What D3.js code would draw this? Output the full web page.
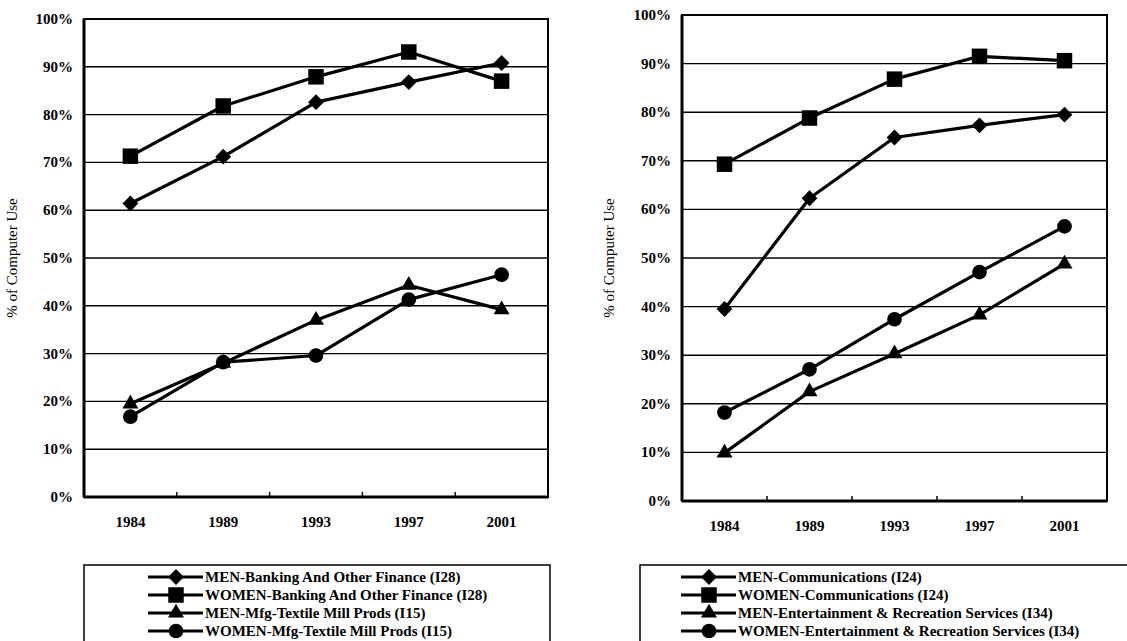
<!DOCTYPE html>
<html>
<head>
<meta charset="utf-8">
<script src="https://cdn.jsdelivr.net/npm/d3@7"></script>
<style>
  body { margin: 0; background: #fff; }
  svg text { font-family: "Liberation Serif", "Times New Roman", serif; fill: #000; }
</style>
</head>
<body>
<div id="chart"></div>
<script>
// years on the x axis
const years = ['1984', '1989', '1993', '1997', '2001'];
const yTicks = [0, 10, 20, 30, 40, 50, 60, 70, 80, 90, 100];

// left panel series (% of computer use)
const leftNames = [
  'MEN-Banking And Other Finance (I28)',
  'WOMEN-Banking And Other Finance (I28)',
  'MEN-Mfg-Textile Mill Prods (I15)',
  'WOMEN-Mfg-Textile Mill Prods (I15)'
];
const menBanking = [61.4, 71.2, 82.6, 86.8, 90.8];
const womenBanking = [71.3, 81.8, 87.9, 93.1, 87.0];
const menTextile = [19.5, 28.0, 37.0, 44.3, 39.2];
const womenTextile = [16.8, 28.2, 29.6, 41.3, 46.5];

// right panel series
const rightNames = [
  'MEN-Communications (I24)',
  'WOMEN-Communications (I24)',
  'MEN-Entertainment & Recreation Services (I34)',
  'WOMEN-Entertainment & Recreation Services (I34)'
];
const menComm = [39.5, 62.3, 74.8, 77.3, 79.5];
const womenComm = [69.3, 78.8, 86.8, 91.5, 90.6];
const menEnt = [9.9, 22.5, 30.3, 38.3, 48.8];
const womenEnt = [18.2, 27.1, 37.4, 47.1, 56.5];

const markers = ['diamond', 'square', 'triangle', 'circle'];

const width = 1127, height = 641;
const svg = d3.select('#chart').append('svg')
    .attr('width', width)
    .attr('height', height);

function markerPath(type) {
  if (type === 'square') return d3.symbol(d3.symbolSquare, 240)();
  if (type === 'diamond') return d3.symbol(d3.symbolSquare, 125)();
  if (type === 'triangle') return d3.symbol(d3.symbolTriangle, 110)();
  return d3.symbol(d3.symbolCircle, 170)();
}

function drawPanel(opt) {
  const g = svg.append('g');
  const x = d3.scaleBand().domain(years).range([opt.left, opt.right]);
  const y = d3.scaleLinear().domain([0, 100]).range([opt.bottom, opt.top]);
  const cx = d => x(d) + x.bandwidth() / 2;

  // gridlines
  g.append('g')
    .selectAll('line')
    .data(yTicks.slice(1, -1))
    .join('line')
      .attr('x1', opt.left).attr('x2', opt.right)
      .attr('y1', d => y(d)).attr('y2', d => y(d))
      .attr('stroke', '#000')
      .attr('stroke-width', 1.4);

  // frame
  g.append('rect')
    .attr('x', opt.left).attr('y', opt.top)
    .attr('width', opt.right - opt.left).attr('height', opt.bottom - opt.top)
    .attr('fill', 'none').attr('stroke', '#000').attr('stroke-width', 2);
  g.append('line')
    .attr('x1', opt.left).attr('x2', opt.left)
    .attr('y1', opt.top).attr('y2', opt.bottom)
    .attr('stroke', '#000').attr('stroke-width', 3);
  g.append('line')
    .attr('x1', opt.left).attr('x2', opt.right)
    .attr('y1', opt.bottom).attr('y2', opt.bottom)
    .attr('stroke', '#000').attr('stroke-width', 3);

  // x tick marks between categories (pointing inward)
  g.append('g')
    .selectAll('line')
    .data(years.slice(1))
    .join('line')
      .attr('x1', d => x(d)).attr('x2', d => x(d))
      .attr('y1', opt.bottom).attr('y2', opt.bottom - 5)
      .attr('stroke', '#000').attr('stroke-width', 1.5);

  // y tick labels
  g.append('g')
    .selectAll('text')
    .data(yTicks)
    .join('text')
      .attr('x', opt.left - 11)
      .attr('y', d => y(d) + 5)
      .attr('text-anchor', 'end')
      .style('font-size', '15px')
      .style('font-weight', 700)
      .text(d => d + '%');

  // x labels
  g.append('g')
    .selectAll('text')
    .data(years)
    .join('text')
      .attr('x', cx)
      .attr('y', opt.bottom + 30)
      .attr('text-anchor', 'middle')
      .style('font-size', '15px')
      .style('font-weight', 700)
      .text(d => d);

  // y axis title
  g.append('text')
    .attr('transform', `translate(${opt.titleX}, ${(opt.top + opt.bottom) / 2}) rotate(-90)`)
    .attr('text-anchor', 'middle')
    .style('font-size', '15px')
    .text('% of Computer Use');

  // lines + markers
  const line = d3.line().x((d, i) => cx(years[i])).y(d => y(d));
  opt.series.forEach((vals, k) => {
    g.append('path')
      .attr('d', line(vals))
      .attr('fill', 'none')
      .attr('stroke', '#000')
      .attr('stroke-width', 3.2)
      .attr('stroke-linejoin', 'round');
    g.append('g')
      .selectAll('path')
      .data(vals)
      .join('path')
        .attr('d', markerPath(markers[k]))
        .attr('transform', (d, i) => `translate(${cx(years[i])}, ${y(d)})` + (markers[k] === 'diamond' ? ' rotate(45)' : ''))
        .attr('fill', '#000');
  });

  // legend box
  const lg = svg.append('g');
  lg.append('rect')
    .attr('x', opt.legend.x).attr('y', opt.legend.y)
    .attr('width', opt.legend.w).attr('height', opt.legend.h)
    .attr('fill', '#fff').attr('stroke', '#000').attr('stroke-width', 1.5);
  const item = lg.selectAll('.legend-item')
    .data(opt.names)
    .join('g')
      .attr('class', 'legend-item')
      .attr('transform', (d, i) => `translate(0, ${opt.legend.y + 12 + i * 18})`);
  item.append('line')
    .attr('x1', opt.legend.lineX).attr('x2', opt.legend.lineX + 55)
    .attr('stroke', '#000').attr('stroke-width', 3.2);
  item.append('path')
    .attr('d', (d, i) => markerPath(markers[i]))
    .attr('transform', (d, i) => `translate(${opt.legend.lineX + 28}, 0)` + (markers[i] === 'diamond' ? ' rotate(45)' : ''))
    .attr('fill', '#000');
  item.append('text')
    .attr('x', opt.legend.lineX + 57)
    .attr('y', 5)
    .style('font-size', '15px')
    .style('font-weight', 700)
    .text(d => d);
}

drawPanel({
  left: 84, right: 548, top: 19, bottom: 497, titleX: 17,
  series: [menBanking, womenBanking, menTextile, womenTextile],
  names: leftNames,
  legend: { x: 84, y: 565, w: 466, h: 80, lineX: 148 }
});

drawPanel({
  left: 682, right: 1107, top: 15, bottom: 501, titleX: 614,
  series: [menComm, womenComm, menEnt, womenEnt],
  names: rightNames,
  legend: { x: 640, y: 565, w: 490, h: 80, lineX: 681 }
});
</script>
</body>
</html>
